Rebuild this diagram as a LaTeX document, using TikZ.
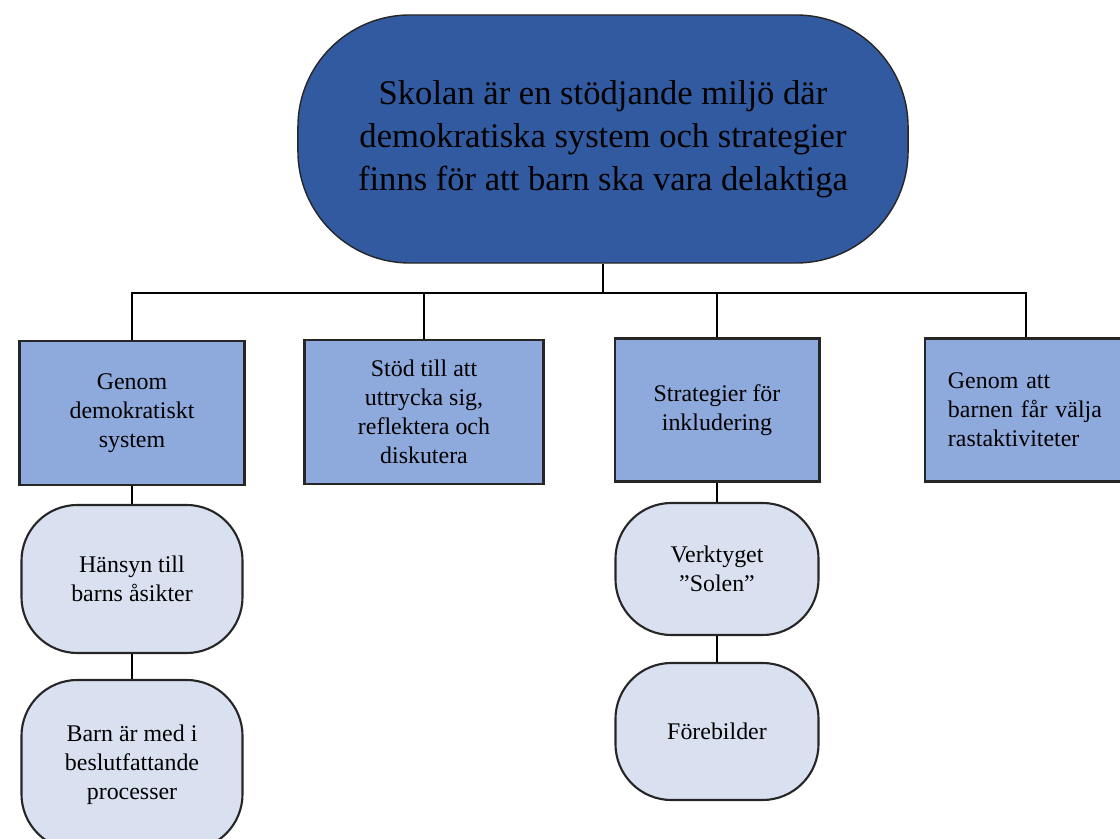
\documentclass[tikz,border=0pt]{standalone}
\usepackage{fontspec}
\setmainfont{Liberation Serif}
\usepackage{tikz}
\usetikzlibrary{positioning}

\definecolor{topblue}{RGB}{50,90,160}
\definecolor{midblue}{RGB}{142,169,219}
\definecolor{paleblue}{RGB}{217,225,240}
\definecolor{rim}{RGB}{38,38,38}

\begin{document}
\begin{tikzpicture}[x=0.025cm, y=-0.025cm,
    topbox/.style={draw=rim, line width=1pt, fill=topblue, rounded corners=2.8cm,
        align=center, font=\fontsize{24.6}{30.5}\selectfont},
    midbox/.style={draw=rim, line width=2.1pt, fill=midblue, align=center,
        font=\fontsize{17}{20.6}\selectfont},
    subbox/.style={draw=rim, line width=1.5pt, fill=paleblue, rounded corners=1.4cm,
        align=center, font=\fontsize{17}{20.6}\selectfont},
    link/.style={line width=1.8pt, black}]

    \useasboundingbox (0,0) rectangle (1120,839);

    \node [topbox, minimum width=15.25cm, minimum height=6.2cm] (top) at (603,139)
        {Skolan är en stödjande miljö där\\demokratiska system och strategier\\finns för att barn ska vara delaktiga};
    \coordinate (bus) at (603,293);

    \node [midbox, minimum width=5.6cm, minimum height=3.6cm] (g1) at (132,413)
        {Genom\\demokratiskt\\system};
    \node [midbox, minimum width=5.95cm, minimum height=3.6cm] (g2) at (424,412)
        {Stöd till att\\uttrycka sig,\\reflektera och\\diskutera};
    \node [midbox, minimum width=5.1cm, minimum height=3.575cm] (g3) at (717,410)
        {Strategier för\\inkludering};
    \node [midbox, minimum width=5.05cm, minimum height=3.575cm, align=left,
        text width=3.9cm, inner xsep=0.575cm] (g4) at (1026,410)
        {Genom att\\barnen får välja\\rastaktiviteter};

    \node [subbox, minimum width=5.525cm, minimum height=3.7cm] (h1) at (132,579)
        {Hänsyn till\\barns åsikter};
    \node [subbox, minimum width=5.525cm, minimum height=4.25cm] (h2) at (132,765)
        {Barn är med i\\beslutfattande\\processer};
    \node [subbox, minimum width=5.075cm, minimum height=3.3cm] (v1) at (717,569)
        {Verktyget\\”Solen”};
    \node [subbox, minimum width=5.075cm, minimum height=3.425cm] (v2) at (717,731.5)
        {Förebilder};

    \draw [link] (top.south) -- (bus);
    \draw [link] (g1.north) |- (bus) -| (g4.north);
    \draw [link] (g2.north) -- (g2.north |- bus);
    \draw [link] (g3.north) -- (g3.north |- bus);
    \draw [link] (g1.south) -- (h1.north);
    \draw [link] (h1.south) -- (h2.north);
    \draw [link] (g3.south) -- (v1.north);
    \draw [link] (v1.south) -- (v2.north);
\end{tikzpicture}
\end{document}
